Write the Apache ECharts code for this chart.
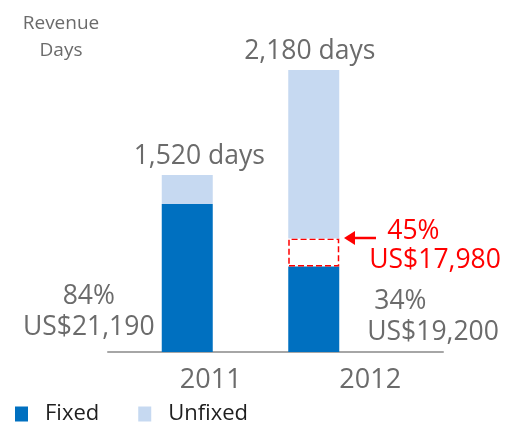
<!DOCTYPE html>
<html>
<head>
<meta charset="utf-8">
<script src="https://cdn.jsdelivr.net/npm/echarts@6/dist/echarts.min.js"></script>
<style>
  html, body { margin: 0; padding: 0; background: #fff; }
  #chart { width: 510px; height: 433px; }
</style>
</head>
<body>
<div id="chart"></div>
<script>
// data (bar heights in the 2012 bar's scale)
var years = ['2011', '2012'];
var fixedDays = [1145, 660];
var gapDays = ['-', 217];       // the dashed 34% -> 45% part of 2012
var unfixedDays = [223, 1303];
var totalLabels = ['1,520 days', '2,180 days'];
var fixedLabels = ['84%\nUS$21,190', '34%\nUS$19,200'];
var gapLabels = ['', '45%\nUS$17,980'];

var grey = '#6b6b6b';
var font = 'Open Sans';

var chart = echarts.init(document.getElementById('chart'));

var option = {
	animation: false,
	title: {
		text: 'Revenue\nDays',
		left: 56,
		top: 5,
		textAlign: 'center',
		textStyle: { fontFamily: font, fontSize: 19, fontWeight: 'normal', color: grey, lineHeight: 27 }
	},
	legend: {
		data: ['Fixed', 'Unfixed'],
		left: 10,
		bottom: 3,
		itemWidth: 13,
		itemHeight: 15,
		itemGap: 39,
		icon: 'rect',
		textStyle: { fontFamily: font, fontSize: 22, color: '#1f1f1f', padding: [0, 0, 0, 12] }
	},
	grid: [
		// axis only
		{ left: 108, right: 67, top: 70, bottom: 81 },
		// bars (they are not centred on the axis categories)
		{ left: 124, right: 133, top: 70, bottom: 81 }
	],
	xAxis: [{
		type: 'category',
		gridIndex: 0,
		data: years,
		axisLine: { lineStyle: { color: '#a6a6a6', width: 2 } },
		axisTick: { length: 7, lineStyle: { color: '#a6a6a6', width: 2 } },
		axisLabel: {
			margin: 15,
			formatter: function (v, i) { return i == 0 ? '{a|' + v + '}' : '{b|' + v + '}'; },
			rich: {
				a: { fontFamily: font, fontSize: 27, color: grey, padding: [0, 0, 0, 38] },
				b: { fontFamily: font, fontSize: 27, color: grey, padding: [0, 0, 0, 22] }
			}
		}
	}, {
		type: 'category',
		gridIndex: 1,
		data: years,
		show: false
	}],
	yAxis: [
		{ type: 'value', gridIndex: 0, show: false, min: 0, max: 2180 },
		{ type: 'value', gridIndex: 1, show: false, min: 0, max: 2180 }
	],
	series: [{
		name: 'Fixed',
		type: 'bar',
		xAxisIndex: 1,
		yAxisIndex: 1,
		stack: 'days',
		barWidth: 51,
		itemStyle: { color: '#0070c0' },
		data: fixedDays.map(function (v, i) {
			return {
				value: v,
				label: i == 0
					? { position: [-73, 77], align: 'center' }
					: { position: [79, 19], align: 'left' }
			};
		}),
		label: {
			show: true,
			formatter: function (p) {
				var parts = fixedLabels[p.dataIndex].split('\n');
				return (p.dataIndex == 1 ? '{p|' : '{c|') + parts[0] + '}\n{c|' + parts[1] + '}';
			},
			rich: {
				c: { fontFamily: font, fontSize: 26.5, color: grey, lineHeight: 31 },
				p: { fontFamily: font, fontSize: 26.5, color: grey, lineHeight: 31, padding: [0, 0, 0, 7] }
			}
		}
	}, {
		name: 'gap',
		type: 'bar',
		xAxisIndex: 1,
		yAxisIndex: 1,
		stack: 'days',
		itemStyle: { color: '#ffffff', borderColor: '#ff0000', borderType: 'dashed', borderWidth: 1.5 },
		data: gapDays,
		label: {
			show: true,
			position: [81, -22],
			align: 'left',
			formatter: function (p) {
				var parts = gapLabels[p.dataIndex].split('\n');
				return '{p|' + parts[0] + '}\n{c|' + parts[1] + '}';
			},
			rich: {
				c: { fontFamily: font, fontSize: 26.5, color: '#ff0000', lineHeight: 29 },
				p: { fontFamily: font, fontSize: 26.5, color: '#ff0000', lineHeight: 29, padding: [0, 0, 0, 18] }
			}
		}
	}, {
		name: 'Unfixed',
		type: 'bar',
		xAxisIndex: 1,
		yAxisIndex: 1,
		stack: 'days',
		itemStyle: { color: '#c6d9f1' },
		data: unfixedDays.map(function (v, i) {
			return { value: v, label: { offset: [i == 0 ? 12 : -4, 0] } };
		}),
		label: {
			show: true,
			position: 'top',
			distance: 5,
			fontFamily: font,
			fontSize: 26.5,
			color: grey,
			formatter: function (p) { return totalLabels[p.dataIndex]; }
		}
	}],
	graphic: [{
		// red arrow pointing at the dashed box
		type: 'group',
		children: [{
			type: 'line',
			shape: { x1: 376, y1: 238, x2: 352, y2: 238 },
			style: { stroke: '#ff0000', lineWidth: 2.5 }
		}, {
			type: 'polygon',
			shape: { points: [[344, 238], [355, 231], [355, 245]] },
			style: { fill: '#ff0000' }
		}]
	}]
};

chart.setOption(option);

window.onresize = function () {
	setTimeout(function () {
		chart.resize();
	}, 200);
};
</script>
</body>
</html>
